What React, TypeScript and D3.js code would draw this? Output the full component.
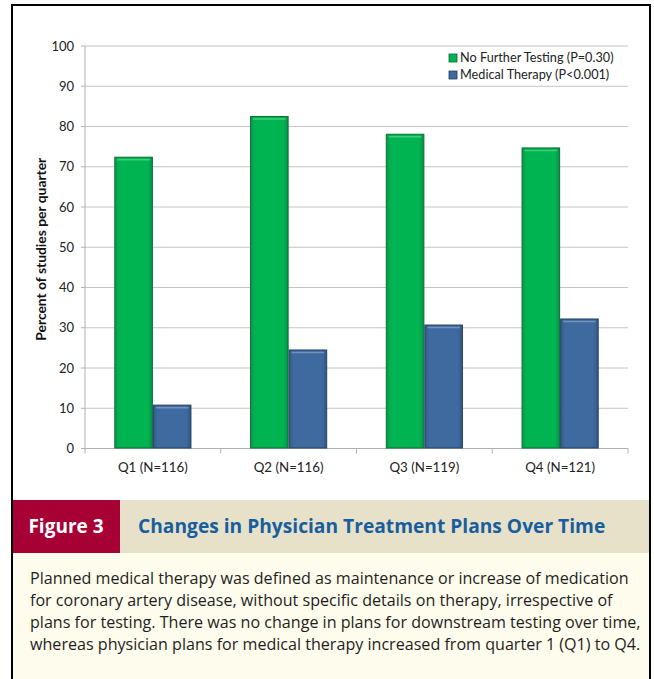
import React from "react";
import * as d3 from "d3";

const categories = ["Q1 (N=116)", "Q2 (N=116)", "Q3 (N=119)", "Q4 (N=121)"];
const noFurtherTesting = [72.5, 82.6, 78.2, 74.8];
const medicalTherapy = [10.9, 24.6, 30.8, 32.3];
const seriesNames = ["No Further Testing (P=0.30)", "Medical Therapy (P<0.001)"];
const yTicks = [0, 10, 20, 30, 40, 50, 60, 70, 80, 90, 100];
const captionLines = [
  "Planned medical therapy was defined as maintenance or increase of medication",
  "for coronary artery disease, without specific details on therapy, irrespective of",
  "plans for testing. There was no change in plans for downstream testing over time,",
  "whereas physician plans for medical therapy increased from quarter 1 (Q1) to Q4.",
];

const W = 654;
const H = 679;

export default function App() {
  const x0 = d3.scaleBand<string>().domain(categories).range([85, 628]).paddingInner(0).paddingOuter(0);
  const x1 = d3
    .scaleBand<string>()
    .domain(["a", "b"])
    .range([0, x0.bandwidth()])
    .paddingOuter(0.76)
    .paddingInner(0);
  const y = d3.scaleLinear().domain([0, 100]).range([448.5, 46]);

  const series = [
    { key: "a", values: noFurtherTesting, grad: "gGreen", stroke: "#0a6e33", hi: "#4fd487" },
    { key: "b", values: medicalTherapy, grad: "gBlue", stroke: "#23405f", hi: "#7f9dc4" },
  ];

  const chartFont = "Lato, 'Open Sans', sans-serif";
  const capFont = "'Open Sans', Roboto, sans-serif";

  return (
    <svg
      width={W}
      height={H}
      style={{ position: "absolute", left: 0, top: 0 }}
      xmlns="http://www.w3.org/2000/svg"
    >
      <defs>
        <linearGradient id="gGreen" x1="0" x2="1" y1="0" y2="0">
          <stop offset="0" stopColor="#0a9a48" />
          <stop offset="0.12" stopColor="#00b452" />
          <stop offset="0.88" stopColor="#00b452" />
          <stop offset="1" stopColor="#07904a" />
        </linearGradient>
        <linearGradient id="gBlue" x1="0" x2="1" y1="0" y2="0">
          <stop offset="0" stopColor="#34598a" />
          <stop offset="0.12" stopColor="#3f6a9f" />
          <stop offset="0.88" stopColor="#3f6a9f" />
          <stop offset="1" stopColor="#325682" />
        </linearGradient>
      </defs>
      <rect x={0} y={0} width={W} height={H} fill="#fff" />

      {/* caption backgrounds */}
      <rect x={12} y={500} width={638} height={53} fill="#e8e1c9" />
      <rect x={12} y={500} width={108} height={53} fill="#a70035" />
      <rect x={12} y={553} width={638} height={130} fill="#fefcec" />

      {/* gridlines */}
      {yTicks
        .filter((t) => t > 0)
        .map((t) => (
          <line key={t} x1={85} x2={628} y1={y(t)} y2={y(t)} stroke="#c4c4c4" strokeWidth={1} />
        ))}
      {/* axes */}
      <line x1={85} x2={85} y1={y(100)} y2={y(0)} stroke="#b0b0b0" />
      <line x1={85} x2={628} y1={y(0)} y2={y(0)} stroke="#b0b0b0" />
      {yTicks.map((t) => (
        <g key={t}>
          <line x1={81} x2={85} y1={y(t)} y2={y(t)} stroke="#b0b0b0" />
          <text
            x={74}
            y={y(t)}
            dy="0.35em"
            textAnchor="end"
            fontFamily={chartFont}
            fontSize={13}
            fill="#222"
          >
            {t}
          </text>
        </g>
      ))}
      {categories.map((c, i) => (
        <line key={"xt" + i} x1={x0(c)!} x2={x0(c)!} y1={y(0)} y2={y(0) + 5} stroke="#b0b0b0" />
      ))}
      <line x1={628} x2={628} y1={y(0)} y2={y(0) + 5} stroke="#b0b0b0" />

      {/* bars */}
      {categories.map((c, i) =>
        series.map((s) => {
          const bx = x0(c)! + x1(s.key)!;
          const bw = x1.bandwidth();
          const by = y(s.values[i]);
          const bh = y(0) - by;
          return (
            <g key={c + s.key}>
              <rect
                x={bx + 0.5}
                y={by + 0.5}
                width={bw - 1}
                height={bh - 1}
                fill={`url(#${s.grad})`}
                stroke={s.stroke}
                strokeWidth={1}
              />
              <line
                x1={bx + 3}
                x2={bx + bw - 3}
                y1={by + 3}
                y2={by + 3}
                stroke={s.hi}
                strokeWidth={1.5}
                opacity={0.8}
              />
            </g>
          );
        })
      )}

      {/* x labels */}
      {categories.map((c) => (
        <text
          key={"xl" + c}
          x={x0(c)! + x0.bandwidth() / 2}
          y={472}
          textAnchor="middle"
          fontFamily={chartFont}
          fontSize={13.3}
          fill="#222"
        >
          {c}
        </text>
      ))}

      {/* y label */}
      <text
        transform={`translate(46,${(y(0) + y(100)) / 2 + 2}) rotate(-90)`}
        textAnchor="middle"
        fontFamily={chartFont}
        fontWeight="bold"
        fontSize={13.5}
        textLength={183}
        lengthAdjust="spacingAndGlyphs"
        fill="#111"
      >
        Percent of studies per quarter
      </text>

      {/* legend */}
      {seriesNames.map((n, i) => (
        <g key={n} transform={`translate(449,${58 + i * 17})`}>
          <rect x={0} y={-4} width={8} height={8} fill={`url(#${series[i].grad})`} stroke={series[i].stroke} strokeWidth={0.8} />
          <text x={11} y={0} dy="0.35em" fontFamily={chartFont} fontSize={12.7} fill="#222">
            {n}
          </text>
        </g>
      ))}

      {/* caption header */}
      <text x={66} y={533} textAnchor="middle" fontFamily={capFont} fontWeight="bold" fontSize={19} fill="#fff">
        Figure 3
      </text>
      <text x={138} y={533} fontFamily={capFont} fontWeight="bold" fontSize={19.2} fill="#175e9f">
        Changes in Physician Treatment Plans Over Time
      </text>
      {captionLines.map((l, i) => (
        <text key={i} x={30} y={584 + i * 22} fontFamily={capFont} fontSize={16.1} fill="#1e1e1e">
          {l}
        </text>
      ))}

      {/* border */}
      <path d={`M12,${H + 2} V5 H650 V${H + 2}`} fill="none" stroke="#000" strokeWidth={2} />
    </svg>
  );
}
